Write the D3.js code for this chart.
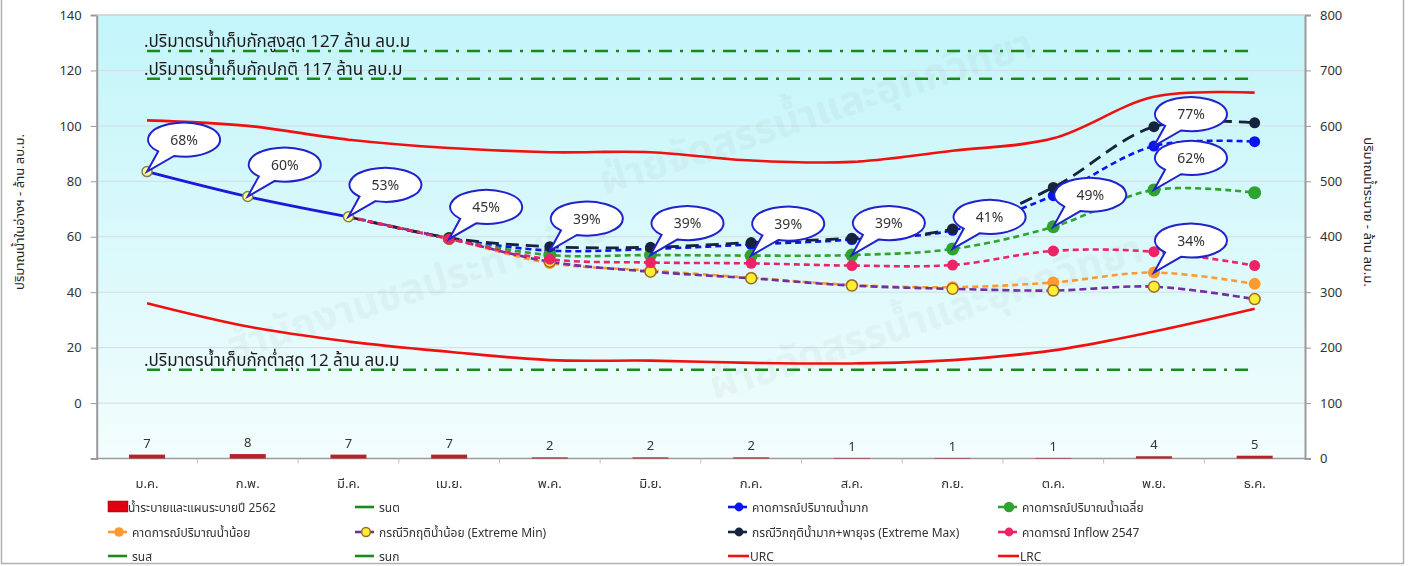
<!DOCTYPE html>
<html><head><meta charset="utf-8">
<script src="https://cdn.jsdelivr.net/npm/d3@7"></script>
<style>
html,body{margin:0;padding:0;background:#fff;}
svg text{font-family:Tahoma,"Noto Sans Thai","Noto Sans","DejaVu Sans",sans-serif;}
</style></head>
<body><svg id="c" width="1411" height="566"></svg>
<script>
// ---------- data ----------
const months = ['ม.ค.','ก.พ.','มี.ค.','เม.ย.','พ.ค.','มิ.ย.','ก.ค.','ส.ค.','ก.ย.','ต.ค.','พ.ย.','ธ.ค.'];
const release2562 = [7,8,7,7,2,2,2,1,1,1,4,5];
const actual = [83.5,74.5,67.2,null,null,null,null,null,null,null,null,null];
const wetForecast = [null,null,67.2,59.5,55.0,55.6,57.2,59.0,62.3,74.8,92.7,94.3];
const avgForecast = [null,null,67.2,59.4,53.4,53.4,53.2,53.4,55.6,63.6,76.9,75.9];
const dryForecast = [null,null,67.2,59.3,50.5,47.8,45.2,42.6,41.8,43.5,47.1,43.0];
const extremeMin = [null,null,67.2,59.3,51.0,47.4,45.0,42.4,41.2,40.6,42.0,37.5];
const extremeMax = [null,null,67.2,59.6,56.4,56.2,57.9,59.5,62.8,77.8,99.7,101.1];
const inflow2547 = [null,null,67.2,59.2,51.9,50.7,50.4,49.6,49.8,54.9,54.6,49.6];
const urc = [102,100,95,92,90.5,90.5,87.5,87,91,95.5,110.5,112];
const lrc = [36,27.6,22.2,18.5,15.5,15.3,14.5,14.3,15.5,19,25.8,34];
const refValues = [127,117,12];
const refLabels = ['.ปริมาตรน้ำเก็บกักสูงสุด 127 ล้าน ลบ.ม','.ปริมาตรน้ำเก็บกักปกติ 117 ล้าน ลบ.ม','.ปริมาตรน้ำเก็บกักต่ำสุด 12 ล้าน ลบ.ม'];
const leftTicks = [0,20,40,60,80,100,120,140];
const rightTicks = [0,100,200,300,400,500,600,700,800];
const calloutMonth = ['ม.ค.','ก.พ.','มี.ค.','เม.ย.','พ.ค.','มิ.ย.','ก.ค.','ส.ค.','ก.ย.','ต.ค.','พ.ย.','พ.ย.','พ.ย.'];
const calloutSeries = ['actual','actual','actual','inflow2547','wetForecast','avgForecast','avgForecast','avgForecast','avgForecast','avgForecast','wetForecast','avgForecast','dryForecast'];
const calloutText = ['68%','60%','53%','45%','39%','39%','39%','39%','41%','49%','77%','62%','34%'];
const legendLabels = ['น้ำระบายและแผนระบายปี 2562','รนต','คาดการณ์ปริมาณน้ำมาก','คาดการณ์ปริมาณน้ำเฉลี่ย',
  'คาดการณ์ปริมาณน้ำน้อย','กรณีวิกฤติน้ำน้อย (Extreme Min)','กรณีวิกฤติน้ำมาก+พายุจร (Extreme Max)','คาดการณ์ Inflow 2547',
  'รนส','รนก','URC','LRC'];
const leftTitle = 'ปริมาณน้ำในอ่างฯ - ล้าน ลบ.ม.';
const rightTitle = 'ปริมาณน้ำระบาย - ล้าน ลบ.ม.';
const watermarks = ['ฝ่ายจัดสรรน้ำและอุทกวิทยา','สำนักงานชลประทานที่ ๒'];

const seriesData = {actual, wetForecast, avgForecast, dryForecast, extremeMin, extremeMax, inflow2547};

// ---------- layout ----------
const svg = d3.select('#c');
const L = 96.7, R = 1305, T = 15, B = 458.5;
const x = d3.scaleBand().domain(months).range([L,R]).paddingInner(0).paddingOuter(0);
const cx = m => x(m) + x.bandwidth()/2;
const yL = d3.scaleLinear().domain([-20,140]).range([B,T]);
const yR = d3.scaleLinear().domain([0,800]).range([B,T]);

// frame
svg.append('path').attr('d','M1.5,0 V563.5 H1403.5 V0').attr('fill','none').attr('stroke','#b0b0b0').attr('stroke-width',1.5);

// background gradient
const defs = svg.append('defs');
const g1 = defs.append('linearGradient').attr('id','bg').attr('x1',0).attr('y1',0).attr('x2',0).attr('y2',1);
g1.append('stop').attr('offset','0%').attr('stop-color','#c3f5fa');
g1.append('stop').attr('offset','55%').attr('stop-color','#dcf9fb');
g1.append('stop').attr('offset','100%').attr('stop-color','#f3fdfd');
svg.append('rect').attr('x',L).attr('y',T).attr('width',R-L).attr('height',B-T).attr('fill','url(#bg)');

// gridlines
svg.append('g').selectAll('line').data(leftTicks.concat([140])).join('line')
  .attr('x1',L).attr('x2',R).attr('y1',d=>yL(d)).attr('y2',d=>yL(d))
  .attr('stroke','#d2dde0').attr('stroke-width',1);

// watermark (faint)
const wm = svg.append('g').attr('fill','#7a7a7a').attr('opacity',0.06)
  .style('font-size','40px').style('font-weight','bold');
[[820,125,0],[420,300,1],[930,330,0]].forEach(p=>{
  wm.append('text').attr('transform',`translate(${p[0]},${p[1]}) rotate(-18)`).attr('text-anchor','middle').text(watermarks[p[2]]);
});

// axes
const axL = svg.append('g').attr('transform',`translate(${L},0)`)
  .call(d3.axisLeft(yL).tickValues(leftTicks).tickSize(6).tickPadding(9).tickFormat(d3.format('d')));
const axR = svg.append('g').attr('transform',`translate(${R},0)`)
  .call(d3.axisRight(yR).tickValues(rightTicks).tickSize(6).tickPadding(9).tickFormat(d3.format('d')));
[axL,axR].forEach(a=>{
  a.select('.domain').attr('stroke','#9a9a9a').attr('stroke-width',2);
  a.selectAll('.tick line').attr('stroke','#9a9a9a');
  a.selectAll('.tick text').attr('fill','#333').style('font-size','13px');
});
axL.append('line').attr('x1',0).attr('x2',-6).attr('y1',B).attr('y2',B).attr('stroke','#9a9a9a');
// top border
svg.append('line').attr('x1',L).attr('x2',R).attr('y1',T).attr('y2',T).attr('stroke','#cfd6d8').attr('stroke-width',1.5);
// bottom axis
svg.append('line').attr('x1',L).attr('x2',R).attr('y1',B).attr('y2',B).attr('stroke','#9a9a9a').attr('stroke-width',1.5);
svg.append('g').selectAll('line').data(months.slice(1)).join('line')
  .attr('x1',d=>x(d)).attr('x2',d=>x(d)).attr('y1',B).attr('y2',B+5).attr('stroke','#c0c0c0');
svg.append('g').selectAll('text').data(months).join('text')
  .attr('x',cx).attr('y',B+29).attr('text-anchor','middle').attr('fill','#333').style('font-size','13px').text(d=>d);

// axis titles
svg.append('text').attr('transform','translate(24,212) rotate(-90)').attr('text-anchor','middle')
  .attr('fill','#222').style('font-size','13px').text(leftTitle);
svg.append('text').attr('transform','translate(1364,212) rotate(90)').attr('text-anchor','middle')
  .attr('fill','#222').style('font-size','13px').text(rightTitle);

// bars
const bw = 36;
svg.append('g').selectAll('rect').data(release2562).join('rect')
  .attr('x',(d,i)=>cx(months[i])-bw/2).attr('width',bw)
  .attr('y',d=>yR(d)).attr('height',d=>B-yR(d)).attr('fill','#b8202a');
svg.append('g').selectAll('text').data(release2562).join('text')
  .attr('x',(d,i)=>cx(months[i])).attr('y',d=>yR(d)-7).attr('text-anchor','middle')
  .attr('fill','#333').style('font-size','13px').text(d=>d);

// reference dash-dot lines
svg.append('g').selectAll('line').data(refValues).join('line')
  .attr('x1',cx(months[0])).attr('x2',cx(months[11])).attr('y1',d=>yL(d)).attr('y2',d=>yL(d))
  .attr('stroke','#1a8a1a').attr('stroke-width',2.6).attr('stroke-dasharray','13,8,3,8');
svg.append('g').selectAll('text').data(refValues).join('text')
  .attr('x',cx(months[0])-3).attr('y',d=>yL(d)-4).attr('fill','#1a1a1a').style('font-size','17px')
  .text((d,i)=>refLabels[i]);

// URC / LRC
const smooth = d3.line().defined(d=>d!=null).x((d,i)=>cx(months[i])).y(d=>yL(d)).curve(d3.curveCatmullRom.alpha(0.5));
[urc,lrc].forEach(s=>svg.append('path').attr('d',smooth(s)).attr('fill','none').attr('stroke','#f01010').attr('stroke-width',2.6));

// series
const styles = [
  {key:'wetForecast', color:'#0a14f0', dash:'6,4', w:2.6, r:5.5, fill:'#0a14f0', stroke:'none'},
  {key:'avgForecast', color:'#2ea32e', dash:'6,4', w:2.6, r:6.5, fill:'#2ea32e', stroke:'none'},
  {key:'dryForecast', color:'#ff9a30', dash:'6,4', w:2.6, r:6, fill:'#ff9a30', stroke:'none'},
  {key:'extremeMin', color:'#7030a0', dash:'7,4', w:2.6, r:5.5, fill:'#ffee33', stroke:'#9a6a2a'},
  {key:'extremeMax', color:'#16233f', dash:'13,7', w:2.8, r:5.5, fill:'#16233f', stroke:'none'},
  {key:'inflow2547', color:'#ee2266', dash:'6,4', w:2.6, r:5.5, fill:'#ee2266', stroke:'none'},
  {key:'actual', color:'#1a1ad8', dash:null, w:2.8, r:5, fill:'#ffff99', stroke:'#808050'}
];
styles.forEach(st=>{
  const data = seriesData[st.key];
  svg.append('path').attr('d',smooth(data)).attr('fill','none').attr('stroke',st.color)
    .attr('stroke-width',st.w).attr('stroke-dasharray',st.dash);
  svg.append('g').selectAll('circle').data(data.map((v,i)=>({v,i})).filter(d=>d.v!=null && !(st.key!=='actual' && d.i===2))).join('circle')
    .attr('cx',d=>cx(months[d.i])).attr('cy',d=>yL(d.v)).attr('r',st.r)
    .attr('fill',st.fill).attr('stroke',st.stroke).attr('stroke-width',1.5);
});

// callouts
const rx = 36, ry = 17, offX = 37, offY = -32;
const cg = svg.append('g');
calloutText.forEach((t,k)=>{
  const i = months.indexOf(calloutMonth[k]);
  const px = cx(months[i]), py = yL(seriesData[calloutSeries[k]][i]);
  const ccx = px+offX, ccy = py+offY;
  const a1 = 106*Math.PI/180, a2 = 136*Math.PI/180;
  const b1 = [ccx+rx*Math.cos(a1), ccy+ry*Math.sin(a1)];
  const b2 = [ccx+rx*Math.cos(a2), ccy+ry*Math.sin(a2)];
  const d = `M${b2[0]},${b2[1]} L${px},${py} L${b1[0]},${b1[1]} A${rx},${ry} 0 1 0 ${b2[0]},${b2[1]} Z`;
  cg.append('path').attr('d',d).attr('fill','#fff').attr('stroke','#2222cc').attr('stroke-width',2);
  cg.append('text').attr('x',ccx).attr('y',ccy+5).attr('text-anchor','middle').attr('fill','#333')
    .style('font-size','14px').text(t);
});

// legend
const rowsY = [507,532,556];
const colsX = [108,355,728,998];
const legSym = ['rect','line','blue','green','orange','min','max','pink','line','line','red','red'];
const symStyle = {blue:styles[0],green:styles[1],orange:styles[2],min:styles[3],max:styles[4],pink:styles[5]};
const lg = svg.append('g');
legendLabels.forEach((lab,k)=>{
  const gx = colsX[k%4], gy = rowsY[Math.floor(k/4)];
  const s = legSym[k];
  if(s==='rect'){
    lg.append('rect').attr('x',gx).attr('y',gy-6).attr('width',20).attr('height',11).attr('fill','#e00010').attr('stroke','#900',).attr('stroke-width',0.5);
  } else if(s==='line'){
    lg.append('line').attr('x1',gx).attr('x2',gx+19).attr('y1',gy).attr('y2',gy).attr('stroke','#1a8a1a').attr('stroke-width',2.6);
  } else if(s==='red'){
    lg.append('line').attr('x1',gx).attr('x2',gx+21).attr('y1',gy).attr('y2',gy).attr('stroke','#f01010').attr('stroke-width',2.6);
  } else {
    const st = symStyle[s];
    lg.append('line').attr('x1',gx).attr('x2',gx+19).attr('y1',gy).attr('y2',gy).attr('stroke',st.color).attr('stroke-width',2.6);
    lg.append('circle').attr('cx',gx+11).attr('cy',gy).attr('r',st.r*0.8).attr('fill',st.fill).attr('stroke',st.stroke).attr('stroke-width',1.5);
  }
  lg.append('text').attr('x',gx+(s==='rect'?20:(s==='red'?22:24))).attr('y',gy+5).attr('fill','#333').style('font-size','12px').text(lab);
});
</script></body></html>
